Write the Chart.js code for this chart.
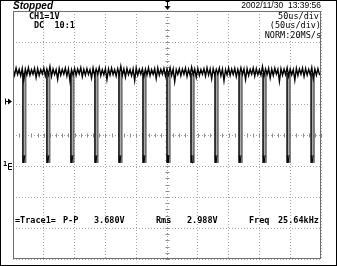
<!DOCTYPE html>
<html><head><meta charset="utf-8">
<script src="https://cdn.jsdelivr.net/npm/chart.js@4/dist/chart.umd.min.js"></script>
<style>
html,body{margin:0;padding:0;background:#fff;}
#wrap{position:relative;width:337px;height:266px;overflow:hidden;background:#fff;}
#c{position:absolute;left:0;top:0;}
#edge{position:absolute;left:0;top:0;width:335px;height:264px;border:1px solid #000;pointer-events:none;}
.t{position:absolute;font-family:"DejaVu Sans Mono",monospace;font-weight:bold;font-size:8.5px;line-height:8.5px;color:#000;white-space:pre;}
.r{text-align:right;}
</style></head><body>
<div id="wrap">
<canvas id="c" width="337" height="266"></canvas>
<div id="edge"></div>
<div class="t" style="left:13px;top:1px;font-family:'Liberation Sans',Arial,sans-serif;font-size:10px;line-height:10px;font-style:italic;">Stopped</div>
<div class="t r" style="right:16px;top:1px;font-family:'Liberation Sans',Arial,sans-serif;font-weight:normal;font-size:8.5px;">2002/11/30  13:39:56</div>
<div class="t" style="left:29px;top:12px;">CH1=1V</div>
<div class="t" style="left:34px;top:21px;">DC  10:1</div>
<div class="t r" style="right:18px;top:12px;font-weight:normal;">50us/div</div>
<div class="t r" style="right:16px;top:21px;font-weight:normal;">(50us/div)</div>
<div class="t r" style="right:16px;top:31px;font-weight:normal;">NORM:20MS/s</div>
<div class="t" style="left:3px;top:161px;font-size:7px;line-height:7px;">1</div>
<div class="t" style="left:15px;top:216px;">=Trace1=</div>
<div class="t" style="left:63px;top:216px;">P-P</div>
<div class="t" style="left:94px;top:216px;">3.680V</div>
<div class="t" style="left:156px;top:216px;">Rms</div>
<div class="t" style="left:187px;top:216px;">2.988V</div>
<div class="t" style="left:249px;top:216px;">Freq</div>
<div class="t" style="left:278px;top:216px;">25.64kHz</div>
</div>
<script>
// ---- data ----
// time axis in microseconds (50 us/div, 10 div), voltage axis in volts (1 V/div, ground at 0)
const xTicksUs = [0, 50, 100, 150, 200, 250, 300, 350, 400, 450, 500];
const yTicksV = [-3, -2, -1, 0, 1, 2, 3, 4, 5];
// falling-edge times of the negative pulses (us)
const pulseTimesUs = [16, 55, 94, 133, 172, 211, 250, 289, 328, 367, 406, 445, 484];
const pulseTopV = 3.0;
const pulseBottomV = 0.1;
const pulseTipTopV = 0.35;
const triggerLevelV = 2.1;
const triggerTimeUs = 250;
// noisy high level of the trace, one sample every 2.5 us
const sampleStepUs = 2.5;
const noiseVolts = [
 3.13,2.93,3.16,2.95,3.12,2.91,3.15,2.78,3.13,2.94,3.17,2.93,3.11,2.96,3.15,2.85,3.14,2.92,3.11,2.97,
 3.16,2.91,3.13,2.94,3.21,2.89,3.13,2.95,3.11,2.80,3.15,2.93,3.12,2.96,3.16,2.90,3.13,2.74,3.11,2.94,
 3.15,2.92,3.13,2.97,3.17,2.88,3.12,2.93,3.14,2.95,3.11,2.84,3.16,2.92,3.13,2.96,3.18,2.91,3.11,2.94,
 3.14,2.79,3.13,2.93,3.16,2.95,3.11,2.90,3.14,2.94,3.22,2.92,3.13,2.87,3.15,2.95,3.11,2.91,3.13,2.76,
 3.16,2.93,3.12,2.96,3.14,2.89,3.13,2.94,3.17,2.91,3.11,2.95,3.14,2.82,3.16,2.93,3.12,2.96,3.15,2.90,
 3.13,2.94,3.17,2.92,3.13,2.72,3.11,2.95,3.14,2.91,3.13,2.96,3.16,2.89,3.12,2.93,3.19,2.95,3.13,2.86,
 3.15,2.92,3.11,2.96,3.14,2.90,3.17,2.94,3.13,2.81,3.14,2.93,3.12,2.96,3.16,2.91,3.13,2.75,3.11,2.94,
 3.16,2.92,3.13,2.95,3.15,2.88,3.12,2.93,3.17,2.95,3.13,2.79,3.14,2.92,3.12,2.96,3.16,2.90,3.14,2.94,
 3.11,2.93,3.21,2.91,3.13,2.95,3.15,2.84,3.13,2.92,3.16,2.96,3.12,2.73,3.14,2.93,3.13,2.95,3.17,2.90,
 3.13,2.94,3.11,2.77,3.15,2.92,3.13,2.96,3.16,2.89,3.14,2.93,3.12,2.95,3.18,2.82,3.13,2.93,3.14,2.95
];

// ---- build datasets ----
const noisePts = noiseVolts.map((v, i) => ({x: i * sampleStepUs, y: v}));
noisePts.push({x: xTicksUs[xTicksUs.length - 1], y: noiseVolts[noiseVolts.length - 1]});
function pulseLines(offsetUs, fromV, toV) {
  const pts = [];
  pulseTimesUs.forEach(t => {
    pts.push({x: t + offsetUs, y: fromV}, {x: t + offsetUs, y: toV}, {x: t + offsetUs, y: null});
  });
  return pts;
}
function pulseTips(offsetUs) {
  const pts = [];
  pulseTimesUs.forEach(t => {
    pts.push({x: t + offsetUs - 1.6, y: pulseTipTopV}, {x: t + offsetUs, y: pulseBottomV},
             {x: t + offsetUs + 1.6, y: pulseTipTopV}, {x: t + offsetUs, y: null});
  });
  return pts;
}
const lineBase = {showLine: true, pointRadius: 0, tension: 0, spanGaps: false};

const scopePlugin = {
  id: 'scope',
  beforeDatasetsDraw(chart) {
    const {ctx, scales: {x, y}} = chart;
    const cx = Math.round(x.getPixelForValue(triggerTimeUs)) + 0.5;
    const cy = Math.round(y.getPixelForValue(1)) + 0.5;
    ctx.save();
    ctx.strokeStyle = '#8c8c8c';
    ctx.lineWidth = 1;
    ctx.beginPath();
    for (let v = xTicksUs[0]; v <= xTicksUs[xTicksUs.length - 1]; v += 10) {
      const px = Math.round(x.getPixelForValue(v)) + 0.5;
      ctx.moveTo(px, cy - 2); ctx.lineTo(px, cy + 2);
    }
    for (let k = 0; k <= 40; k++) {
      const py = Math.round(y.getPixelForValue(yTicksV[0] + k * 0.2)) + 0.5;
      ctx.moveTo(cx - 2, py); ctx.lineTo(cx + 2, py);
    }
    ctx.stroke();
    ctx.restore();
  },
  afterDraw(chart) {
    const {ctx, chartArea: a, scales: {x, y}} = chart;
    ctx.save();
    ctx.strokeStyle = '#6e6e6e';
    ctx.lineWidth = 1;
    ctx.strokeRect(Math.round(a.left) + 0.5, Math.round(a.top) + 0.5,
                   Math.round(a.right - a.left) - 1, Math.round(a.bottom - a.top) - 1);
    ctx.fillStyle = '#000';
    ctx.strokeStyle = '#000';
    const tx = Math.round(x.getPixelForValue(triggerTimeUs)) + 0.5;
    ctx.beginPath();
    ctx.moveTo(tx - 2, 1.5); ctx.lineTo(tx + 2, 1.5);
    ctx.moveTo(tx, 1.5); ctx.lineTo(tx, 6);
    ctx.stroke();
    ctx.beginPath();
    ctx.moveTo(tx - 3, 6); ctx.lineTo(tx + 3, 6); ctx.lineTo(tx, 10); ctx.closePath();
    ctx.fill();
    const ty = Math.round(y.getPixelForValue(triggerLevelV)) + 0.5;
    ctx.beginPath();
    ctx.moveTo(5.5, ty - 3); ctx.lineTo(5.5, ty + 3);
    ctx.moveTo(5.5, ty); ctx.lineTo(9, ty);
    ctx.stroke();
    ctx.beginPath();
    ctx.moveTo(8, ty - 3); ctx.lineTo(12, ty); ctx.lineTo(8, ty + 3); ctx.closePath();
    ctx.fill();
    const gy = Math.round(y.getPixelForValue(0)) + 0.5;
    ctx.beginPath();
    ctx.moveTo(12, gy - 3); ctx.lineTo(8.5, gy - 3); ctx.lineTo(8.5, gy + 3); ctx.lineTo(12, gy + 3);
    ctx.moveTo(8.5, gy); ctx.lineTo(12, gy);
    ctx.stroke();
    ctx.restore();
  }
};

new Chart(document.getElementById('c'), {
  type: 'scatter',
  data: {
    datasets: [
      Object.assign({label: 'trace', data: noisePts, borderColor: '#000', borderWidth: 1.4, fill: false}, lineBase),
      Object.assign({label: 'tips', data: pulseTips(1.6), borderColor: '#000', backgroundColor: '#000', borderWidth: 1, fill: false}, lineBase),
      Object.assign({label: 'edgeL', data: pulseLines(0, pulseTopV, pulseBottomV), borderColor: '#222', borderWidth: 1, fill: false}, lineBase),
      Object.assign({label: 'edgeR', data: pulseLines(4.6, pulseTopV, pulseBottomV), borderColor: '#707070', borderWidth: 1, fill: false}, lineBase),
      Object.assign({label: 'pulses', data: pulseLines(2.3, pulseTopV, pulseBottomV), borderColor: '#aaaaaa', borderWidth: 2.4, fill: false}, lineBase)
    ]
  },
  options: {
    responsive: false,
    animation: false,
    events: [],
    layout: {padding: {left: 13, right: 16, top: 11, bottom: 7}},
    plugins: {legend: {display: false}, tooltip: {enabled: false}},
    scales: {
      x: {
        type: 'linear', min: xTicksUs[0], max: xTicksUs[xTicksUs.length - 1],
        afterBuildTicks: s => { s.ticks = xTicksUs.map(v => ({value: v})); },
        ticks: {display: false},
        grid: {color: '#a6a6a6', lineWidth: 1, drawTicks: false},
        border: {display: false, dash: [1, 2]}
      },
      y: {
        type: 'linear', min: yTicksV[0], max: yTicksV[yTicksV.length - 1],
        afterBuildTicks: s => { s.ticks = yTicksV.map(v => ({value: v})); },
        ticks: {display: false},
        grid: {color: '#a6a6a6', lineWidth: 1, drawTicks: false},
        border: {display: false, dash: [1, 2]}
      }
    }
  },
  plugins: [scopePlugin]
});
</script>
</body></html>
